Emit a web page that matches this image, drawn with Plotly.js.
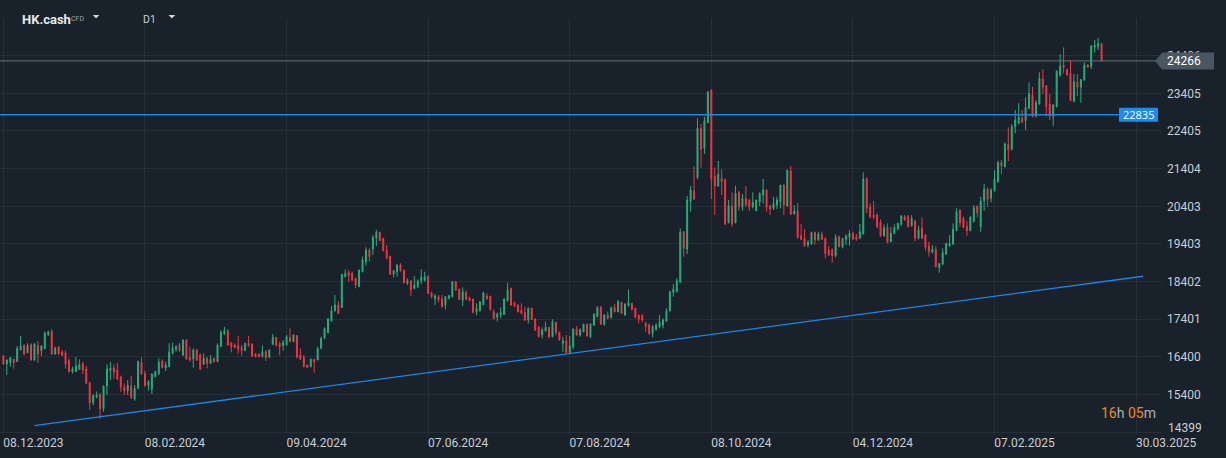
<!DOCTYPE html>
<html><head><meta charset="utf-8">
<script src="https://cdn.plot.ly/plotly-3.0.1.min.js"></script>
<style>html,body{margin:0;padding:0;background:#19212a;}#chart{width:1226px;height:458px;}</style>
</head><body><div id="chart"></div>
<script>
const symbol = 'HK.cash';
const instrumentType = 'CFD';
const timeframe = 'D1';
const dateLabels = ['08.12.2023','08.02.2024','09.04.2024','07.06.2024','07.08.2024','08.10.2024','04.12.2024','07.02.2025','30.03.2025'];
const barsPerDateLabel = 41;
const priceTicks = [14399,15400,16400,17401,18402,19403,20403,21404,22405,23405,24406];
const countdown = {hours: '16', minutes: '05'};

const open = [
16425,16212,16248,16336,16274,16584,16709,16514,16726,16319,
16709,16567,16620,16992,17080,16478,16664,16531,16514,16301,
16009,16009,16071,16212,16080,15717,15185,15327,15415,15026,
15628,16035,16106,16053,15867,15593,15504,15628,15282,15566,
16257,15964,15637,15548,15876,15956,16292,16106,16142,16496,
16602,16717,16452,16850,16390,16345,16584,16452,16212,16363,
16230,16363,16274,16673,17018,17089,16780,16717,16700,16655,
16567,16762,16744,16478,16478,16407,16540,16390,16735,16921,
16762,16700,16717,16921,16806,16965,16452,16390,16186,16142,
16337,16319,16629,16895,17045,17355,17630,17780,17710,18533,
18640,18622,18489,18268,18666,18932,19242,19268,19552,19711,
19552,19242,19082,18604,18666,18843,18710,18356,18427,18223,
18268,18427,18445,18533,18091,17949,18002,17940,17780,17958,
18002,18400,18197,17913,18108,17966,17940,17603,17630,17789,
18020,18020,17595,17453,17515,17533,17896,18223,17842,17780,
17648,17577,17382,17692,17409,17187,16983,17090,17187,16939,
17320,17054,16762,16833,16514,16673,17143,16983,17072,17267,
16939,17249,17471,17718,17276,17515,17444,17718,17603,17851,
17515,17763,17825,17692,17497,17497,17293,17249,17027,17134,
17205,17249,17355,17630,18117,18135,18382,19729,19268,20526,
20809,21164,22474,21943,22625,23492,21207,20941,21145,21119,
19967,20410,19967,20773,20392,20614,20570,20392,20286,20516,
20702,20835,20410,20348,20437,20525,20968,20410,21340,20198,
20277,19622,19551,19374,19401,19710,19507,19666,19551,19241,
19241,19090,19595,19330,19525,19578,19684,19595,19551,19666,
21128,20392,20171,20171,19976,19622,19843,19462,19684,19799,
19923,20127,20127,19888,20012,19551,19817,19640,19348,19179,
19259,18772,18869,19135,19356,19401,19755,20304,20083,19879,
19755,20012,20410,19861,20552,20862,20614,20818,21057,21562,
21455,22058,21925,22518,22607,22740,22678,23006,23360,22802,
23121,23785,23608,23121,22802,23050,23891,24157,24042,23936,
23200,23696,23564,23758,24157,24113,24626,24644,24715];

const high = [
16452,16336,16407,16354,16691,16957,16735,16762,16762,16770,
16824,16717,17080,17098,17142,16673,16690,16584,16567,16363,
16142,16399,16336,16274,16160,15730,15415,15486,15430,15640,
16204,16265,16204,16239,15903,15699,15787,15894,15655,16300,
16390,16035,15787,15964,16035,16363,16336,16274,16762,16779,
16717,16779,16868,16870,16673,16629,16610,16496,16496,16407,
16452,16381,16762,17116,17204,17142,16790,16762,16956,16717,
16779,16956,16762,16496,16490,16700,16584,16600,17010,16930,
16806,16850,16983,17160,17000,16983,16629,16452,16204,16363,
16340,16673,16939,17187,17426,17754,18046,17887,18605,18728,
18710,18666,18507,18720,19065,19313,19286,19640,19773,19729,
19552,19375,19082,18710,18861,18888,18710,18489,18430,18551,
18463,18728,18666,18578,18135,18073,18046,18046,18020,18046,
18418,18418,18223,18250,18161,18002,17940,17825,17869,18135,
18091,18020,17665,17577,17718,17958,18374,18241,17869,17798,
17825,17736,17718,17710,17426,17223,17187,17338,17205,17400,
17338,17072,16939,16983,16957,17161,17223,17161,17285,17293,
17293,17559,17754,17754,17542,17603,17736,17807,17913,17869,
17825,18196,17842,17710,17541,17541,17337,17293,17249,17293,
17515,17426,17692,18161,18338,18489,19817,19746,20676,20942,
21473,22740,22590,22784,23466,23500,21429,21606,21384,21136,
20570,20773,20950,20809,20729,20942,20596,20773,20580,20773,
21128,20845,20437,20658,20658,20968,20986,21370,21473,20437,
20490,19932,19799,19507,19728,19728,19728,19728,19578,19347,
19285,19657,19622,19560,19657,19772,19728,19666,19932,21305,
21172,20481,20543,20215,20056,19923,19950,19861,19923,19967,
20171,20171,20171,20171,20038,19888,20109,19667,19463,19374,
19348,18890,19286,19436,19640,19950,20348,20322,20127,20021,
20145,20437,20415,20659,20995,20907,20880,21367,21615,21633,
22102,22501,22589,22961,23138,22961,23298,23696,23581,23227,
23962,24051,23626,23386,23121,24006,24449,24626,24051,24290,
23918,23918,23776,24228,24175,24688,24821,24874,24750];

const low = [
16186,15920,16142,16088,16265,16580,16452,16496,16301,16300,
16248,16425,16610,16957,16460,16460,16460,16425,16088,15990,
15964,16000,16053,15947,15681,14990,15123,15300,14760,14946,
15389,15787,15832,15787,15477,15389,15389,15282,15238,15550,
15920,15610,15504,15415,15858,15920,16097,16027,16130,16470,
16540,16540,16425,16330,16274,16115,16290,16053,16186,16097,
16212,16248,16265,16664,16983,16710,16522,16629,16496,16434,
16558,16673,16407,16390,16390,16390,16292,16380,16717,16673,
16443,16567,16710,16800,16790,16363,16319,16124,16106,16124,
15982,16310,16602,16877,17028,17338,17603,17541,17700,18515,
18400,18418,18223,18260,18648,18826,18932,19109,19348,19472,
19198,18994,18578,18515,18533,18666,18356,18312,18020,18197,
18223,18338,18400,18073,17958,17780,17851,17718,17665,17931,
17984,18152,17913,17754,17913,17878,17559,17515,17603,17780,
17913,17630,17400,17338,17426,17515,17869,17754,17718,17577,
17533,17355,17293,17382,17099,16921,16895,17072,16895,16921,
16983,16833,16541,16496,16496,16602,16966,16939,17054,16939,
16895,17223,17453,17249,17223,17400,17426,17586,17586,17541,
17488,17736,17630,17426,17293,17320,17072,16983,16921,17098,
17160,17160,17337,17603,18002,18117,18374,19064,19135,20260,
20570,21120,21429,21793,22607,20596,20171,20924,20702,19905,
19950,19861,19950,20286,20286,20392,20277,20348,20277,20410,
20481,20260,20171,20304,20330,20348,20171,20392,20171,20189,
19551,19507,19330,19312,19374,19392,19489,19507,19020,19090,
18904,19046,19312,19285,19374,19356,19507,19489,19533,19660,
20215,20082,20056,19817,19595,19595,19418,19445,19657,19755,
19888,20012,19843,19861,19480,19525,19534,19224,19064,19153,
18781,18639,18843,19109,19330,19374,19746,19861,19817,19613,
19746,19968,20109,19728,20287,20393,20508,20791,21030,21261,
21438,21606,21881,22341,22580,22607,22430,22988,22766,22766,
23103,23386,22802,22696,22536,23032,23847,23936,23874,23200,
23165,23333,23156,23740,24086,24051,24485,24556,24266];

const close = [
16212,16319,16372,16248,16629,16691,16478,16709,16319,16744,
16478,16691,17027,17063,16478,16629,16478,16452,16212,16009,
16080,16160,16195,16053,15699,15185,15362,15389,15026,15628,
16080,16106,16000,15814,15593,15504,15646,15327,15566,16283,
15947,15637,15734,15947,16009,16265,16115,16186,16531,16646,
16673,16567,16850,16345,16319,16584,16319,16080,16363,16230,
16336,16274,16717,17054,17089,16717,16673,16655,16611,16567,
16762,16700,16425,16407,16407,16540,16390,16584,16921,16717,
16673,16789,16939,16806,16983,16390,16337,16142,16124,16337,
16266,16629,16895,17161,17409,17630,17780,17559,18595,18622,
18560,18445,18312,18710,18976,19242,19065,19578,19711,19490,
19224,19020,18595,18693,18843,18693,18374,18427,18179,18312,
18418,18516,18533,18091,18002,18020,17913,17736,18002,18029,
18400,18179,17931,18135,17931,17896,17586,17692,17869,18108,
17949,17665,17418,17542,17577,17940,18179,17780,17754,17603,
17559,17382,17692,17400,17116,16939,17116,17187,16939,17338,
17054,16850,16833,16514,16700,17143,16983,17116,17267,16957,
17276,17533,17710,17276,17515,17426,17710,17603,17869,17559,
17807,17851,17665,17453,17408,17382,17205,17027,17205,17249,
17328,17382,17630,18135,18196,18427,19711,19286,20570,20836,
20597,22474,21916,22669,23431,21128,20941,21252,21057,19932,
20410,19932,20747,20392,20614,20437,20392,20507,20570,20747,
20835,20375,20330,20481,20570,20968,20437,21367,20189,20277,
19569,19525,19356,19445,19710,19507,19666,19525,19152,19108,
19090,19578,19330,19551,19613,19684,19533,19525,19728,21128,
20348,20127,20109,19861,19622,19834,19445,19684,19834,19950,
20144,20038,19861,20082,19551,19772,19551,19312,19197,19268,
18799,18887,19170,19418,19418,19790,20260,19968,19844,19755,
20109,20366,20233,20543,20862,20588,20836,21128,21571,21473,
22058,21898,22518,22696,22766,22651,23032,23404,22784,23156,
23803,23564,23050,22802,23094,23998,24130,24086,23891,23209,
23714,23564,23776,24157,24095,24662,24688,24733,24266];

// drawn lines (bar index, price)
const supportX = [9, 330];
const supportY = [14574, 18543];
const resistanceX = [-1, 323];
const resistanceY = [22835, 22835];

const n = close.length;
const bars = close.map((_, i) => i);
const lastClose = close[n - 1];
const xRange = [-0.98, 335.5];

const BG = '#19212a', GRID = '#262f38', TXT = '#c9ced3';
const GREEN = '#26b07a', RED = '#f23645', BLUE = '#1a86e8';

const traces = [
  {type: 'candlestick', x: bars, open: open, high: high, low: low, close: close,
   increasing: {line: {color: GREEN, width: 1}, fillcolor: GREEN},
   decreasing: {line: {color: RED, width: 1}, fillcolor: RED},
   whiskerwidth: 0, hoverinfo: 'skip', showlegend: false},
  {type: 'scatter', mode: 'lines', x: supportX, y: supportY,
   line: {color: BLUE, width: 1.4}, hoverinfo: 'skip', showlegend: false},
  {type: 'scatter', mode: 'lines', x: resistanceX, y: resistanceY,
   line: {color: BLUE, width: 1.4}, hoverinfo: 'skip', showlegend: false},
  {type: 'scatter', mode: 'lines', x: xRange, y: [lastClose, lastClose],
   line: {color: '#6b737c', width: 1}, hoverinfo: 'skip', showlegend: false}
];

const layout = {
  width: 1226, height: 458,
  margin: {l: 0, r: 64, t: 18, b: 24},
  paper_bgcolor: BG, plot_bgcolor: BG,
  font: {family: 'Roboto, sans-serif', size: 12, color: TXT},
  boxgap: 0.6,
  showlegend: false,
  xaxis: {
    range: xRange, rangeslider: {visible: false},
    tickmode: 'array',
    tickvals: dateLabels.map((_, i) => i * barsPerDateLabel),
    ticktext: dateLabels,
    showgrid: true, gridcolor: GRID, gridwidth: 1,
    zeroline: false, showline: false, ticks: '',
    tickfont: {family: 'Roboto, sans-serif', size: 12, color: TXT},
    ticklabelshift: 30, ticklabelstandoff: 0,
    fixedrange: true
  },
  yaxis: {
    side: 'right', range: [14353, 25406],
    tickmode: 'array', tickvals: priceTicks,
    ticktext: priceTicks.map((v, i) => i === 0 ? '' : String(v)),
    showgrid: true, gridcolor: GRID, gridwidth: 1,
    zeroline: false, showline: false, ticks: '',
    tickfont: {family: 'Roboto, sans-serif', size: 12, color: TXT},
    ticklabelstandoff: 4,
    fixedrange: true
  },
  shapes: [
    // last price tag
    {type: 'path', xref: 'paper', yref: 'y', xsizemode: 'pixel', ysizemode: 'pixel',
     xanchor: 1, yanchor: lastClose,
     path: 'M -7 0 L 0 8.5 L 52 8.5 L 52 -8.5 L 0 -8.5 Z',
     fillcolor: '#4a5661', line: {width: 0}, layer: 'above'},
    // resistance tag
    {type: 'path', xref: 'paper', yref: 'y', xsizemode: 'pixel', ysizemode: 'pixel',
     xanchor: 1, yanchor: resistanceY[1],
     path: 'M -43 -7 L -4 -7 L -4 7 L -43 7 Z',
     fillcolor: '#1b8cf2', line: {width: 0}, layer: 'above'},
    // header dropdown triangles
    {type: 'path', xref: 'paper', yref: 'paper', xsizemode: 'pixel', ysizemode: 'pixel',
     xanchor: 0, yanchor: 1, path: 'M 92.8 3 L 99.4 3 L 96.1 -0.4 Z',
     fillcolor: '#d0d4d8', line: {width: 0}, layer: 'above'},
    {type: 'path', xref: 'paper', yref: 'paper', xsizemode: 'pixel', ysizemode: 'pixel',
     xanchor: 0, yanchor: 1, path: 'M 168.5 3 L 175.3 3 L 171.9 -0.4 Z',
     fillcolor: '#d0d4d8', line: {width: 0}, layer: 'above'}
  ],
  annotations: [
    {xref: 'paper', yref: 'y', x: 1, y: lastClose, xanchor: 'left', yanchor: 'middle',
     xshift: 3, text: String(lastClose), showarrow: false,
     font: {family: 'Roboto, sans-serif', size: 12, color: '#ffffff'}},
    {xref: 'paper', yref: 'y', x: 1, y: resistanceY[1], xanchor: 'center', yanchor: 'middle',
     xshift: -23.5, text: String(resistanceY[1]), showarrow: false,
     font: {family: 'Open Sans, sans-serif', size: 11, color: '#ffffff'}},
    {xref: 'paper', yref: 'y', x: 1, y: priceTicks[0], xanchor: 'left', yanchor: 'middle',
     xshift: 4, yshift: 4, text: String(priceTicks[0]), showarrow: false,
     font: {family: 'Roboto, sans-serif', size: 12, color: TXT}},
    {xref: 'paper', yref: 'paper', x: 1, y: 0.05, xanchor: 'right', yanchor: 'middle',
     xshift: -4, showarrow: false,
     text: '<span style="color:#ee8c1c">' + countdown.hours + '</span>h <span style="color:#ee8c1c">' + countdown.minutes + '</span>m',
     font: {family: 'Roboto, sans-serif', size: 14, color: '#aab1b8'}},
    {xref: 'paper', yref: 'paper', x: 20 / 1162, y: 1, xanchor: 'left', yanchor: 'middle',
     yshift: -1.5, text: '<b>' + symbol + '</b>', showarrow: false,
     font: {family: 'Roboto, sans-serif', size: 13, color: '#e6e9ec'}},
    {xref: 'paper', yref: 'paper', x: 69 / 1162, y: 1, xanchor: 'left', yanchor: 'middle',
     yshift: -0.5, text: instrumentType, showarrow: false,
     font: {family: 'Roboto, sans-serif', size: 7, color: '#9aa3ab'}},
    {xref: 'paper', yref: 'paper', x: 141 / 1162, y: 1, xanchor: 'left', yanchor: 'middle',
     yshift: -1.5, text: timeframe, showarrow: false,
     font: {family: 'Roboto, sans-serif', size: 10.5, color: '#c9ced3'}}
  ]
};

Plotly.newPlot('chart', traces, layout, {displayModeBar: false, staticPlot: true});
</script>
</body></html>
